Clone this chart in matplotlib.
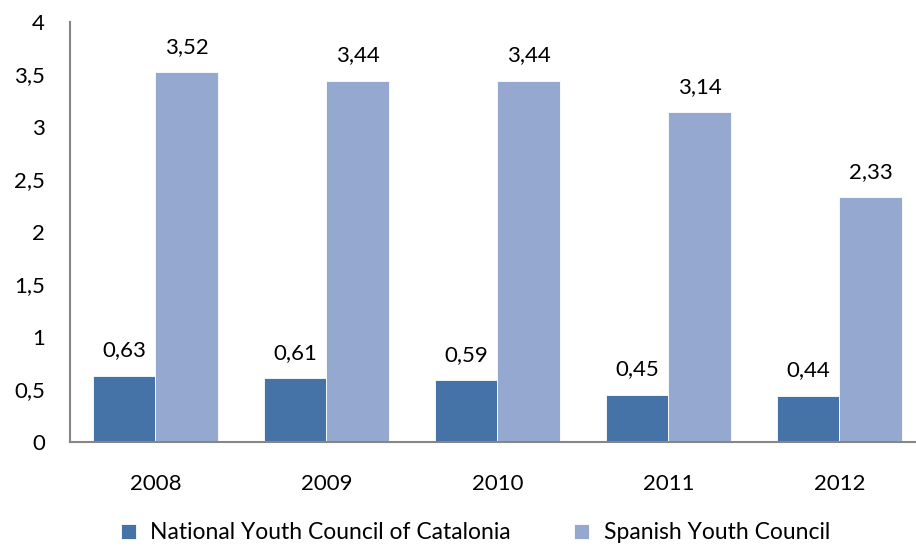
import numpy as np
import matplotlib
matplotlib.use("Agg")
import matplotlib.pyplot as plt

years = ["2008", "2009", "2010", "2011", "2012"]
catalonia = [0.63, 0.61, 0.59, 0.45, 0.44]
spanish = [3.52, 3.44, 3.44, 3.14, 2.33]
series_names = ["National Youth Council of Catalonia", "Spanish Youth Council"]
y_ticks = [0, 0.5, 1, 1.5, 2, 2.5, 3, 3.5, 4]

plt.rcParams['font.family'] = ['Lato', 'DejaVu Sans']

fig = plt.figure(figsize=(9.16, 5.46), dpi=100)
# the plot area runs a little past the right edge of the picture
ax = fig.add_axes([0.0764, 0.1905, 0.9334, 0.7692])

x = np.arange(len(years))
w = 0.363
b1 = ax.bar(x - w / 2, catalonia, w, color="#4572A7", edgecolor="white", linewidth=0.6,
            label=series_names[0])
b2 = ax.bar(x + w / 2, spanish, w, color="#95A9D0", edgecolor="white", linewidth=0.6,
            label=series_names[1])

def fmt(v):
    return ("%.2f" % v).replace(".", ",")

for bars, vals in ((b1, catalonia), (b2, spanish)):
    for rect, v in zip(bars, vals):
        ax.annotate(fmt(v), (rect.get_x() + rect.get_width() / 2, v),
                    xytext=(0, 11), textcoords="offset points",
                    ha="center", va="bottom", fontsize=16)

ax.set_xlim(-0.5, len(years) - 0.5)
ax.set_ylim(0, 4)
ax.set_yticks(y_ticks)
ax.set_yticklabels([("%g" % t).replace(".", ",") for t in y_ticks])
ax.set_xticks(x)
ax.set_xticklabels(years)
ax.tick_params(axis="y", length=0, pad=18, labelsize=16)
ax.tick_params(axis="x", length=0, pad=23, labelsize=16)

for s in ("top", "right"):
    ax.spines[s].set_visible(False)
for s in ("left", "bottom"):
    ax.spines[s].set_color("#868686")
    ax.spines[s].set_linewidth(1.5)

fig.legend(handles=[b1, b2], labels=series_names, loc="center",
           bbox_to_anchor=(0.519, 0.024), ncol=2, frameon=False, fontsize=16.5,
           handlelength=0.65, handleheight=0.65, handletextpad=0.65, columnspacing=2.75,
           borderpad=0, borderaxespad=0)

fig.savefig("out.png", dpi=100)
